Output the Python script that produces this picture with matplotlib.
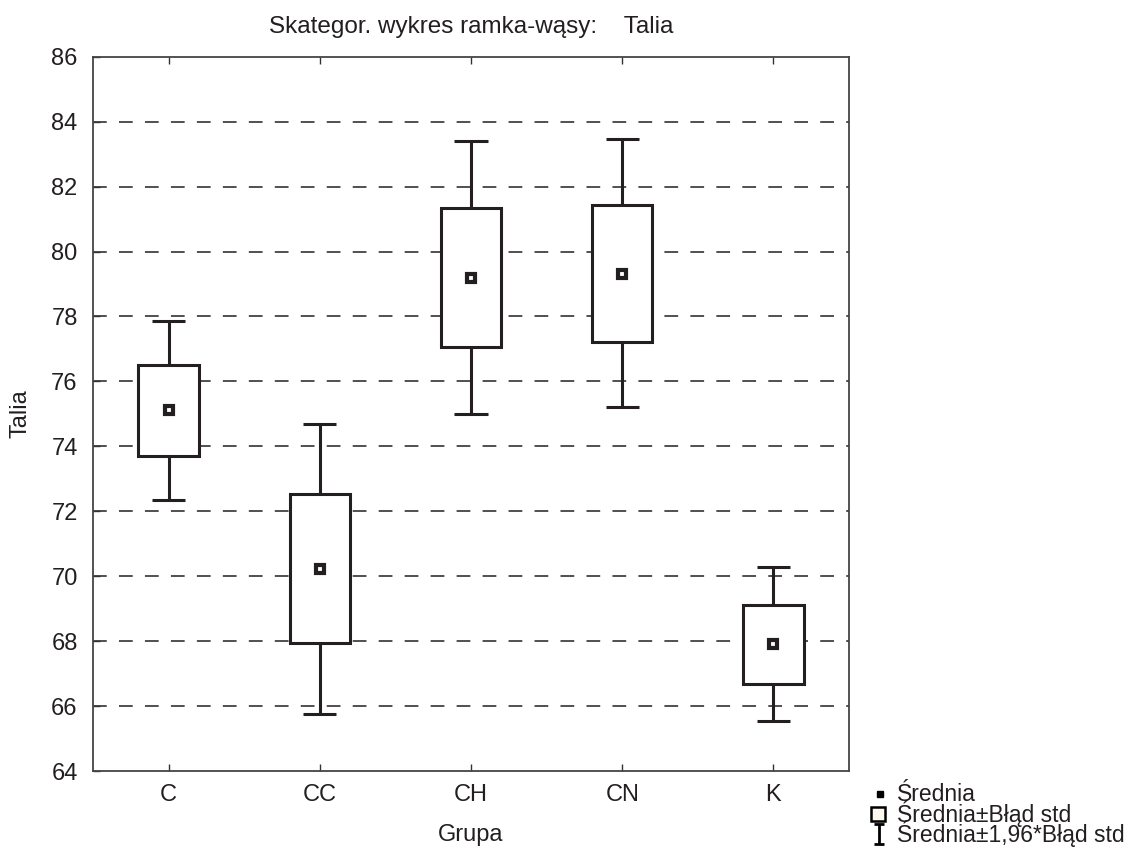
import matplotlib
matplotlib.use('Agg')
import matplotlib.pyplot as plt
from matplotlib.patches import Rectangle
from matplotlib.lines import Line2D
from matplotlib.path import Path

groups = ['C', 'CC', 'CH', 'CN', 'K']
means = [75.12, 70.22, 79.17, 79.30, 67.90]
se_low = [73.70, 67.95, 77.06, 77.22, 66.69]
se_high = [76.50, 72.52, 81.33, 81.42, 69.10]
ci_low = [72.35, 65.75, 74.98, 75.20, 65.53]
ci_high = [77.86, 74.70, 83.39, 83.45, 70.28]
yticks = list(range(64, 87, 2))

title = 'Skategor. wykres ramka-wąsy:    Talia'
xlabel = 'Grupa'
ylabel = 'Talia'
legend_labels = ['Średnia', 'Średnia±Błąd std', 'Średnia±1,96*Błąd std']

plt.rcParams['font.family'] = ['Liberation Sans', 'DejaVu Sans']
W, H = 1141, 855
fig = plt.figure(figsize=(W / 100, H / 100), dpi=100)
ax = fig.add_axes([93 / W, 1 - 771 / H, (849 - 93) / W, (771 - 56.7) / H])

ink = '#231f20'
box_w = 0.40
cap_w = 0.22
for i, g in enumerate(groups):
    ax.plot([i, i], [ci_low[i], se_low[i]], color=ink, lw=2.2, zorder=3, solid_capstyle='butt')
    ax.plot([i, i], [se_high[i], ci_high[i]], color=ink, lw=2.2, zorder=3, solid_capstyle='butt')
    ax.plot([i - cap_w / 2, i + cap_w / 2], [ci_low[i]] * 2, color=ink, lw=2.2, zorder=3, solid_capstyle='butt')
    ax.plot([i - cap_w / 2, i + cap_w / 2], [ci_high[i]] * 2, color=ink, lw=2.2, zorder=3, solid_capstyle='butt')
    ax.add_patch(Rectangle((i - box_w / 2, se_low[i]), box_w, se_high[i] - se_low[i],
                           facecolor='white', edgecolor=ink, lw=2.2, zorder=4))
    ax.plot([i], [means[i]], marker='s', ms=6.2, mew=3.0, mfc='white', mec=ink, ls='none', zorder=5)

ax.set_xlim(-0.5, 4.5)
ax.set_ylim(64, 86)
ax.set_xticks(range(len(groups)))
ax.set_xticklabels(groups)
ax.set_yticks(yticks)
ax.set_yticklabels([str(t) for t in yticks])
ax.tick_params(direction='in', length=5, width=1, colors='#333333', labelsize=17,
               top=True, right=False, labelcolor='#231f20', pad=9)
ax.tick_params(axis='y', pad=11)
for y in yticks[1:-1]:
    ax.axhline(y, color=ink, lw=1.1, ls=(0, (9, 8)), zorder=1)
for s in ax.spines.values():
    s.set_color('#444444')
    s.set_linewidth(1.3)

ax.set_title(title, fontsize=17.5, color='#231f20', pad=17)
ax.set_xlabel(xlabel, fontsize=17, color='#231f20', labelpad=13)
ax.set_ylabel(ylabel, fontsize=17, color='#231f20', labelpad=14)

# legend (manual, figure pixel coordinates)
def fx(px):
    return px / W

def fy(py):
    return 1 - py / H

fs_leg = 16.5
fig.add_artist(Line2D([fx(880)], [fy(794)], marker='s', ms=5, color='black', ls='none'))
fig.add_artist(Rectangle((fx(871), fy(821)), 14 / W, 14 / H, facecolor='#fdf8ee',
                         edgecolor='black', lw=1.8, transform=fig.transFigure))
ipath = Path([(-0.5, 1), (0.5, 1), (0, 1), (0, -1), (-0.5, -1), (0.5, -1)],
             [Path.MOVETO, Path.LINETO, Path.MOVETO, Path.LINETO, Path.MOVETO, Path.LINETO])
fig.add_artist(Line2D([fx(878.5)], [fy(834)], marker=ipath, ms=15, mew=2, color='black',
                      mfc='none', ls='none'))
fig.text(fx(897), fy(815), '\n'.join(legend_labels), fontsize=fs_leg, va='center', ha='left',
         color='#231f20', linespacing=0.72)

fig.savefig('out.png', dpi=100)
